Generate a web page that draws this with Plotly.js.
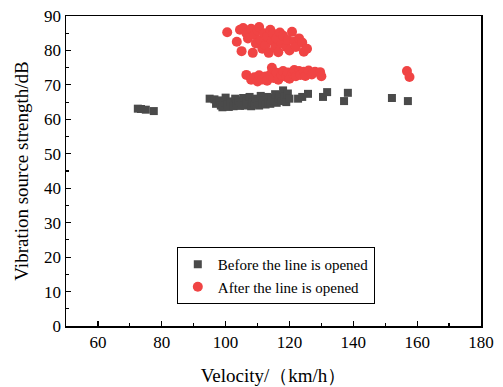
<!DOCTYPE html>
<html><head><meta charset="utf-8">
<script src="https://cdn.plot.ly/plotly-3.0.1.min.js"></script>
<style>html,body{margin:0;padding:0;background:#fff}#chart{width:503px;height:387px}</style>
</head><body><div id="chart"></div>
<script>
const seriesNames = ["Before the line is opened", "After the line is opened"];
const beforeX = [72.5,73.5,75,77.5,
 95.0,96.5,97,98,98.5,99,99.5,100,100.5,101,101.5,102,102.5,103,103.5,104,104.5,105,105.5,106,106.5,107,107.5,108,108.5,109,109.5,110,110.5,111,111.5,112,112.5,113,113.5,114,114.5,115,115.5,116,116.5,117,117.5,118,118.5,119,119.5,120,
 122.7,124,125.8,130.5,131.8,137.1,138.3,152.1,157.1];
const beforeY = [63.1,63.0,62.8,62.4,
 66.0,65.8,64.5,65.5,64.0,63.5,65.0,66.3,64.2,63.6,65.2,64.8,63.8,66.0,64.5,65.5,63.9,64.8,66.2,64.0,65.3,64.6,66.5,63.8,65.0,64.3,66.0,65.2,64.0,66.8,64.8,65.6,64.3,66.5,65.0,64.5,66.2,65.5,67.3,64.8,66.0,67.0,65.3,68.4,66.5,65.0,67.5,66.0,
 66.0,66.5,67.4,66.5,67.9,65.3,67.7,66.2,65.3];
const afterX = [100.5,103.5,104.5,105,105.5,106.5,107,108,108.5,109,109.5,110,110.5,111,111.5,112,112.5,113,113.5,114,114.5,115,115.5,116,116.5,117,117.5,118,119,119.5,120,120.8,121.5,122,123,124,124.5,125.5,
 106.5,108,109,110,110.5,111.5,112.5,113,114,114.5,115,116,116.5,117.5,118,119,119.5,120,121,121.5,122,123,123.5,124.5,125,126,127,128,129.6,130,
 156.8,157.6];
const afterY = [85.3,82.5,86.0,79.8,86.5,85.0,83.5,86.3,79.3,84.5,82.0,85.8,86.8,83.0,80.5,85.0,81.5,84.0,79.3,86.0,82.8,84.8,80.8,83.5,79.5,85.2,82.0,84.3,81.0,83.0,80.0,85.4,82.5,81.0,83.5,82.3,79.6,80.5,
 72.9,71.5,72.2,71.0,72.8,71.6,72.4,71.2,73.0,75.0,72.0,73.5,71.5,72.8,74.0,72.3,73.6,71.8,73.2,74.3,72.5,74.0,72.9,73.8,72.6,74.2,73.0,73.8,73.7,72.5,
 74.0,72.3];

const font = {family: "Times New Roman, Liberation Serif, serif", color: "#000"};
const traces = [
  {x: beforeX, y: beforeY, name: seriesNames[0], type: "scatter", mode: "markers",
   marker: {symbol: "square", size: 8, color: "#4a4a4a"}},
  {x: afterX, y: afterY, name: seriesNames[1], type: "scatter", mode: "markers",
   marker: {symbol: "circle", size: 10, color: "#f04444"}}
];
const axisCommon = {showline: true, linecolor: "#000", linewidth: 1.5, mirror: true,
  ticks: "inside", ticklen: 5, tickwidth: 1.2, tickcolor: "#000", showgrid: false, zeroline: false,
  tickfont: Object.assign({size: 17}, font)};
const layout = {
  width: 503, height: 387,
  margin: {l: 66, r: 22, t: 16, b: 61},
  paper_bgcolor: "#fff", plot_bgcolor: "#fff",
  showlegend: true,
  legend: {x: 0.267, y: 0.255, xanchor: "left", yanchor: "top", bordercolor: "#000", borderwidth: 1,
    bgcolor: "#fff", font: Object.assign({size: 15}, font), tracegroupgap: 0, itemsizing: "trace", itemwidth: 30},
  xaxis: Object.assign({}, axisCommon, {range: [50, 180], tick0: 60, dtick: 20,
    minor: {ticks: "inside", ticklen: 3, tickcolor: "#000", dtick: 10, tick0: 50},
    title: {text: "Velocity/（km/h）", font: Object.assign({size: 19}, font), standoff: 18}}),
  yaxis: Object.assign({}, axisCommon, {range: [0, 90], tick0: 0, dtick: 10,
    minor: {ticks: "inside", ticklen: 3, tickcolor: "#000", dtick: 5, tick0: 0},
    title: {text: "Vibration source strength/dB", font: Object.assign({size: 19}, font), standoff: 10}})
};
Plotly.newPlot("chart", traces, layout, {displayModeBar: false, staticPlot: true});
</script></body></html>
